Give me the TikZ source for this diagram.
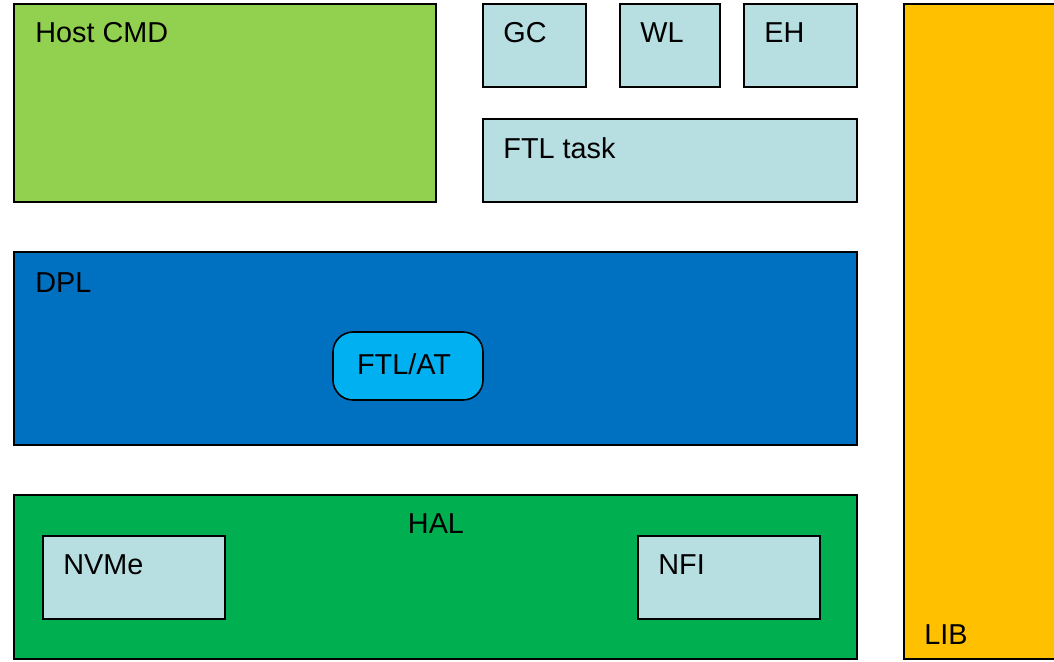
\documentclass[tikz,border=0pt]{standalone}
\usepackage{fontspec}
\setmainfont{Liberation Sans}
\usepackage{tikz}
\usetikzlibrary{fit,positioning}
\usepackage{xcolor}
\definecolor{hostgreen}{HTML}{92D050}
\definecolor{paleblue}{HTML}{B7DEE1}
\definecolor{dplblue}{HTML}{0070C0}
\definecolor{atcyan}{HTML}{00B0F0}
\definecolor{halgreen}{HTML}{00B050}
\definecolor{libamber}{HTML}{FFC000}
\tikzset{
  block/.style={draw=black,line width=0.8pt,inner sep=0pt,rectangle},
  module/.style={block,fill=paleblue},
  tag/.style={inner sep=0pt,font=\fontsize{14.4}{16}\selectfont,anchor=base west}
}

\begin{document}
\begin{tikzpicture}[x=0.5pt,y=-0.5pt]
        \useasboundingbox (0,0) rectangle (1054,661);
        % upper row
        \node[block,fill=hostgreen,fit={(14,4) (436,202)}] (host) {};
        \node[module,fit={(483,4) (586,87)}] (gc) {};
        \node[module,fit={(620,4) (720,87)}] (wl) {};
        \node[module,fit={(744,4) (857,87)}] (eh) {};
        \node[module,fit={(483,119) (857,202)}] (ftl) {};
        % data path layer
        \node[block,fill=dplblue,fit={(14,252) (857,445)}] (dpl) {};
        \node[block,fill=atcyan,rounded corners=10pt,minimum width=75pt,minimum height=34pt] (at) at (408,366) {};
        % hardware layer
        \node[block,fill=halgreen,fit={(14,495) (857,659)}] (hal) {};
        \node[module,fit={(43,536) (225,619)}] (nvme) {};
        \node[module,fit={(638,536) (820,619)}] (nfi) {};
        % library column
        \node[block,fill=libamber,fit={(904,4) (1062,659)}] (lib) {};
        % labels
        \node[tag] at (35,42) {Host CMD};
        \node[tag] at (503,42) {GC};
        \node[tag] at (640,42) {WL};
        \node[tag] at (764,42) {EH};
        \node[tag] at (503,158) {FTL task};
        \node[tag] at (35,292) {DPL};
        \node[tag,anchor=base] at (404,374) {FTL/AT};
        \node[tag,anchor=base] at (436,533) {HAL};
        \node[tag] at (63,574) {NVMe};
        \node[tag] at (658,574) {NFI};
        \node[tag] at (924,644) {LIB};
      \end{tikzpicture}
\end{document}
